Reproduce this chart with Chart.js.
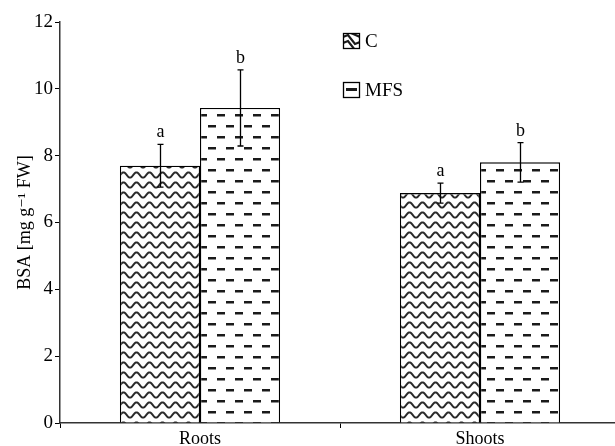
<!DOCTYPE html>
<html>
<head>
<meta charset="utf-8">
<script src="https://cdn.jsdelivr.net/npm/chart.js@4"></script>
<style>
  html, body { margin: 0; padding: 0; background: #fff; overflow: hidden; }
  #wrap { width: 615px; height: 446px; overflow: hidden; }
  #chart { display: block; }
</style>
</head>
<body>
<div id="wrap"><canvas id="chart" width="620" height="446" style="width:620px;height:446px"></canvas></div>
<script>
  const categories = ['Roots', 'Shoots'];
  const seriesLabels = ['C', 'MFS'];
  const valuesC = [7.70, 6.88];
  const valuesMFS = [9.43, 7.80];
  const errC = [0.64, 0.30];
  const errMFS = [1.14, 0.59];
  const lettersC = ['a', 'a'];
  const lettersMFS = ['b', 'b'];
  const yTicks = [0, 2, 4, 6, 8, 10, 12];

  const FONT = '"Liberation Serif", "DejaVu Serif", serif';

  function wavePattern(ctx) {
    const c = document.createElement('canvas');
    c.width = 13; c.height = 10;
    const g = c.getContext('2d');
    g.fillStyle = '#fff';
    g.fillRect(0, 0, 13, 10);
    g.strokeStyle = '#2a2a2a';
    g.lineWidth = 2;
    g.beginPath();
    for (let x = -1; x <= 14; x += 0.5) {
      const y = 5 + 2.6 * Math.cos((x / 13) * Math.PI * 2);
      if (x === -1) g.moveTo(x, y); else g.lineTo(x, y);
    }
    g.stroke();
    return ctx.createPattern(c, 'repeat');
  }

  function dashPattern(ctx) {
    const c = document.createElement('canvas');
    c.width = 18; c.height = 22;
    const g = c.getContext('2d');
    g.fillStyle = '#fff';
    g.fillRect(0, 0, 18, 22);
    g.fillStyle = '#1a1a1a';
    g.fillRect(1, 4, 8, 2.5);
    g.fillRect(10, 15, 8, 2.5);
    return ctx.createPattern(c, 'repeat');
  }

  const canvas = document.getElementById('chart');
  const ctx = canvas.getContext('2d');
  const patC = wavePattern(ctx);
  const patMFS = dashPattern(ctx);

  // error bars + letters
  const errorBars = {
    id: 'errorBars',
    afterDatasetsDraw(chart) {
      const c = chart.ctx;
      const y = chart.scales.y;
      const errs = [errC, errMFS];
      const letters = [lettersC, lettersMFS];
      c.save();
      c.strokeStyle = '#000';
      c.lineWidth = 1.3;
      c.fillStyle = '#000';
      c.font = '18px ' + FONT;
      c.textAlign = 'center';
      c.textBaseline = 'alphabetic';
      chart.data.datasets.forEach((ds, di) => {
        chart.getDatasetMeta(di).data.forEach((bar, i) => {
          const v = ds.data[i];
          const top = y.getPixelForValue(v + errs[di][i]);
          const bot = y.getPixelForValue(v - errs[di][i]);
          const x = Math.round(bar.x) + 0.5;
          c.beginPath();
          c.moveTo(x, top); c.lineTo(x, bot);
          c.moveTo(x - 3, top); c.lineTo(x + 3, top);
          c.moveTo(x - 3, bot); c.lineTo(x + 3, bot);
          c.stroke();
          c.fillText(letters[di][i], x, top - 7);
        });
      });
      c.restore();
    }
  };

  // legend drawn inside the plot area, small swatches like the original
  function drawSwatch(c, i, x, y) {
    c.save();
    c.beginPath();
    c.rect(x, y, 17, 16);
    c.clip();
    c.fillStyle = '#fff';
    c.fillRect(x, y, 17, 16);
    c.strokeStyle = '#1a1a1a';
    if (i === 0) {
      c.lineWidth = 2.2;
      c.beginPath();
      c.moveTo(x, y + 4); c.lineTo(x + 5, y + 2); c.lineTo(x + 12, y + 11); c.lineTo(x + 17, y + 9);
      c.moveTo(x, y + 10); c.lineTo(x + 5, y + 8); c.lineTo(x + 12, y + 17);
      c.moveTo(x + 8, y); c.lineTo(x + 17, y + 4);
      c.stroke();
    } else {
      c.fillStyle = '#1a1a1a';
      c.fillRect(x + 3, y + 6, 11, 3);
    }
    c.restore();
    c.strokeStyle = '#000';
    c.lineWidth = 1.3;
    c.strokeRect(x + 0.5, y + 0.5, 16, 15);
  }

  const insideLegend = {
    id: 'insideLegend',
    afterDraw(chart) {
      const c = chart.ctx;
      const rowY = [33, 82];
      c.save();
      c.font = '19px ' + FONT;
      c.textBaseline = 'middle';
      chart.data.datasets.forEach((ds, i) => {
        drawSwatch(c, i, 343, rowY[i]);
        c.fillStyle = '#000';
        c.fillText(ds.label, 365, rowY[i] + 9);
      });
      c.restore();
    }
  };

  new Chart(canvas, {
    type: 'bar',
    data: {
      labels: categories,
      datasets: [
        {
          label: seriesLabels[0],
          data: valuesC,
          backgroundColor: patC,
          borderColor: '#000',
          borderWidth: 1.3,
          borderSkipped: 'bottom'
        },
        {
          label: seriesLabels[1],
          data: valuesMFS,
          backgroundColor: patMFS,
          borderColor: '#000',
          borderWidth: 1.3,
          borderSkipped: 'bottom'
        }
      ]
    },
    options: {
      responsive: false,
      animation: false,
      devicePixelRatio: 1,
      layout: { padding: { top: 22, right: 0, bottom: 0, left: 0 } },
      categoryPercentage: 0.572,
      barPercentage: 1,
      plugins: {
        legend: { display: false },
        tooltip: { enabled: false }
      },
      scales: {
        x: {
          grid: { drawOnChartArea: false, color: '#000', tickLength: 5, offset: true },
          border: { color: '#333', width: 1.5 },
          ticks: { color: '#000', font: { family: FONT, size: 18 }, padding: 0 },
          afterFit(scale) { scale.height = 23; }
        },
        y: {
          min: 0,
          max: 12,
          afterBuildTicks(scale) { scale.ticks = yTicks.map(v => ({ value: v })); },
          grid: { drawOnChartArea: false, color: '#000', tickLength: 5 },
          border: { color: '#333', width: 1.5 },
          ticks: { color: '#000', font: { family: FONT, size: 19 }, padding: 2 },
          title: {
            display: true,
            text: 'BSA [mg g\u207B\u00B9 FW]',
            color: '#000',
            font: { family: FONT, size: 18 },
            padding: { top: 14, bottom: 0 }
          },
          afterFit(scale) { scale.width = 60; }
        }
      }
    },
    plugins: [errorBars, insideLegend]
  });
</script>
</body>
</html>
